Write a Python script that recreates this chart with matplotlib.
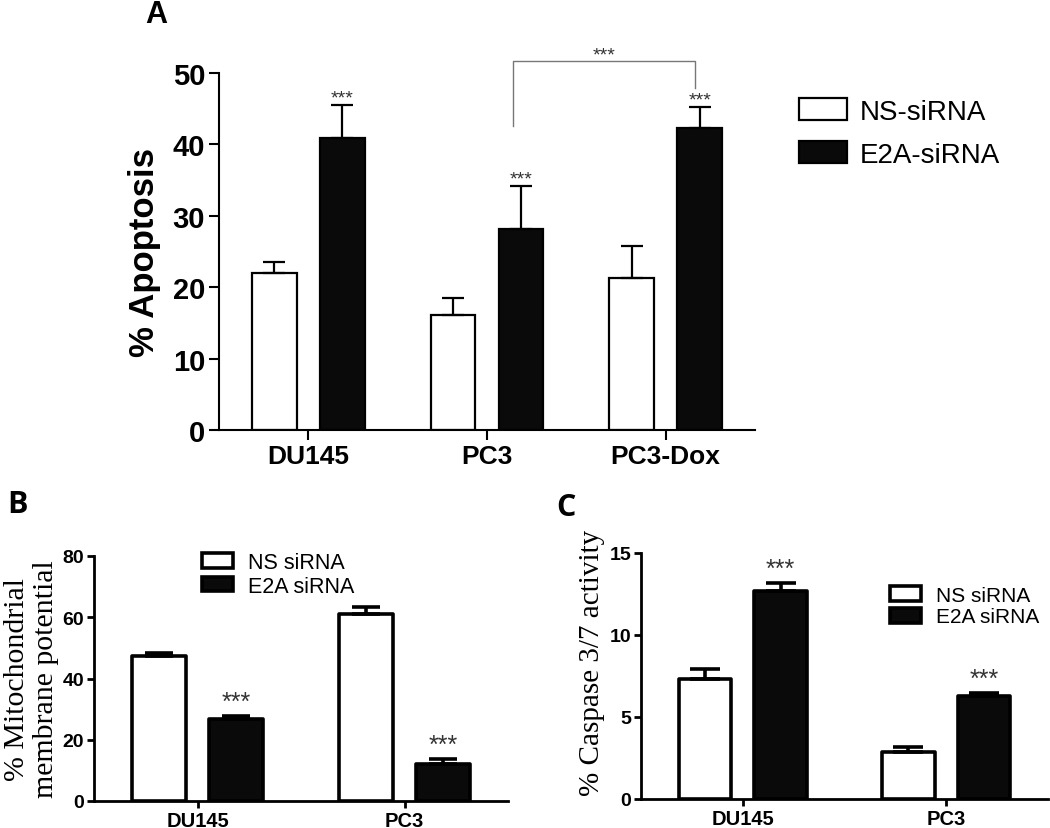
import numpy as np
import matplotlib.pyplot as plt

# data
cells_a = ['DU145', 'PC3', 'PC3-Dox']
ns_a = [22.0, 16.1, 21.3]
ns_a_err = [1.5, 2.4, 4.5]
e2a_a = [40.9, 28.1, 42.3]
e2a_a_err = [4.6, 6.1, 2.9]

cells_bc = ['DU145', 'PC3']
ns_b = [47.4, 61.1]
ns_b_err = [0.9, 2.3]
e2a_b = [26.8, 12.1]
e2a_b_err = [1.0, 1.6]

ns_c = [7.3, 2.87]
ns_c_err = [0.6, 0.3]
e2a_c = [12.7, 6.3]
e2a_c_err = [0.5, 0.15]

plt.rcParams['font.family'] = ['Liberation Sans', 'DejaVu Sans']

W, H = 1050, 829
fig = plt.figure(figsize=(W / 100, H / 100), dpi=100)


def px_axes(l, r, t, b):
    return fig.add_axes([l / W, 1 - b / H, (r - l) / W, (b - t) / H])


def one_sided(err):
    return [np.zeros(len(err)), err]


# ---------------- panel A ----------------
ax = px_axes(219, 755, 74, 431)
x = np.arange(len(cells_a))
bw, off = 0.25, 0.19
ax.bar(x - off, ns_a, bw, color='white', edgecolor='black', lw=1.6,
       yerr=one_sided(ns_a_err), capsize=8,
       error_kw=dict(ecolor='black', elinewidth=1.6, capthick=1.6), label='NS-siRNA')
ax.bar(x + off, e2a_a, bw, color='#0a0a0a', edgecolor='black', lw=1.6,
       yerr=one_sided(e2a_a_err), capsize=8,
       error_kw=dict(ecolor='black', elinewidth=1.6, capthick=1.6), label='E2A-siRNA')
ax.set_xlim(-0.5, 2.5)
ax.set_ylim(0, 50)
ax.set_yticks([0, 10, 20, 30, 40, 50])
ax.set_xticks(x)
ax.set_xticklabels(cells_a, fontsize=19, fontweight='bold')
for lab in ax.get_yticklabels():
    lab.set_fontsize(21)
    lab.set_fontweight('bold')
ax.tick_params(length=7, width=1.5, direction='out', pad=3)
ax.spines[['top', 'right']].set_visible(False)
ax.spines[['left', 'bottom']].set_linewidth(1.5)
ax.set_ylabel('% Apoptosis', fontsize=25, fontweight='bold')
ax.yaxis.set_label_coords(-0.108, 0.5)

for xi, v, e in zip(x + off, e2a_a, e2a_a_err):
    ax.text(xi, v + e + 1.0, '***', ha='center', va='center', fontsize=14, color='#333333')

# bracket between PC3 and PC3-Dox
bx = [1.146, 1.146, 2.163, 2.163]
by = [42.6, 51.7, 51.7, 47.9]
ax.plot(bx, by, color='#777777', lw=1.0, clip_on=False)
ax.text((bx[0] + bx[2]) / 2, 52.5, '***', ha='center', va='center', fontsize=14,
        color='#333333', clip_on=False)

ax.legend(loc='upper left', bbox_to_anchor=(799 / W, 1 - 99 / H), bbox_transform=fig.transFigure,
          frameon=False, fontsize=20, handlelength=1.73, handleheight=0.83,
          handletextpad=0.45, labelspacing=0.6, borderpad=0, borderaxespad=0)

fig.text(156 / W, 1 - 15 / H, 'A', ha='center', va='center', fontsize=22, fontweight='bold')


# ---------------- panels B and C ----------------
def small_panel(ax, ns, ns_err, e2a, e2a_err, ylim, yticks, capsize):
    xb = np.arange(len(cells_bc))
    bwb, offb = 0.257, 0.186
    ekw = dict(ecolor='black', elinewidth=2.6, capthick=2.6)
    ax.bar(xb - offb, ns, bwb, color='white', edgecolor='black', lw=2.6, joinstyle='round',
           yerr=one_sided(ns_err), capsize=capsize, error_kw=ekw, label='NS siRNA')
    ax.bar(xb + offb, e2a, bwb, color='#0a0a0a', edgecolor='black', lw=2.6, joinstyle='round',
           yerr=one_sided(e2a_err), capsize=capsize, error_kw=ekw, label='E2A siRNA')
    ax.set_xlim(-0.5, 1.5)
    ax.set_ylim(*ylim)
    ax.set_yticks(yticks)
    ax.set_xticks(xb)
    ax.set_xticklabels(cells_bc, fontsize=14.5, fontweight='bold')
    for lab in ax.get_yticklabels():
        lab.set_fontsize(14)
        lab.set_fontweight('bold')
    ax.tick_params(length=5, width=2, direction='out', pad=2)
    ax.spines[['top', 'right']].set_visible(False)
    ax.spines[['left', 'bottom']].set_linewidth(2)
    for xi, v, e in zip(xb + offb, e2a, e2a_err):
        ax.annotate('***', (xi, v + e), xytext=(0, 10), textcoords='offset points',
                    ha='center', va='center', fontsize=18, color='#333333')


axb = px_axes(94, 508, 557, 802)
small_panel(axb, ns_b, ns_b_err, e2a_b, e2a_b_err, (0, 80), [0, 20, 40, 60, 80], 10)
axb.set_ylabel('% Mitochondrial\nmembrane potential', fontsize=21.5,
               family=['Liberation Serif', 'DejaVu Serif'], linespacing=1.15)
axb.yaxis.set_label_coords(-0.084, 0.5)
axb.legend(loc='upper left', bbox_to_anchor=(202 / W, 1 - 553 / H), bbox_transform=fig.transFigure,
           frameon=False, fontsize=15.5, handlelength=1.45, handleheight=0.65,
           handletextpad=0.7, labelspacing=0.12, borderpad=0, borderaxespad=0)
fig.text(17 / W, 1 - 505 / H, 'B', ha='center', va='center', fontsize=22, fontweight='bold',
         family=['Open Sans', 'DejaVu Sans'])

axc = px_axes(641, 1048, 554, 800)
small_panel(axc, ns_c, ns_c_err, e2a_c, e2a_c_err, (0, 15), [0, 5, 10, 15], 11)
axc.set_ylabel('% Caspase 3/7 activity', fontsize=21,
               family=['Liberation Serif', 'DejaVu Serif'])
axc.yaxis.set_label_coords(-0.088, 0.557)
axc.legend(loc='upper left', bbox_to_anchor=(890 / W, 1 - 587 / H), bbox_transform=fig.transFigure,
           frameon=False, fontsize=15, handlelength=1.5, handleheight=0.7,
           handletextpad=0.7, labelspacing=0.12, borderpad=0, borderaxespad=0)
fig.text(566 / W, 1 - 508 / H, 'C', ha='center', va='center', fontsize=22, fontweight='bold',
         family=['Open Sans', 'DejaVu Sans'])

fig.savefig('out.png', dpi=100)
